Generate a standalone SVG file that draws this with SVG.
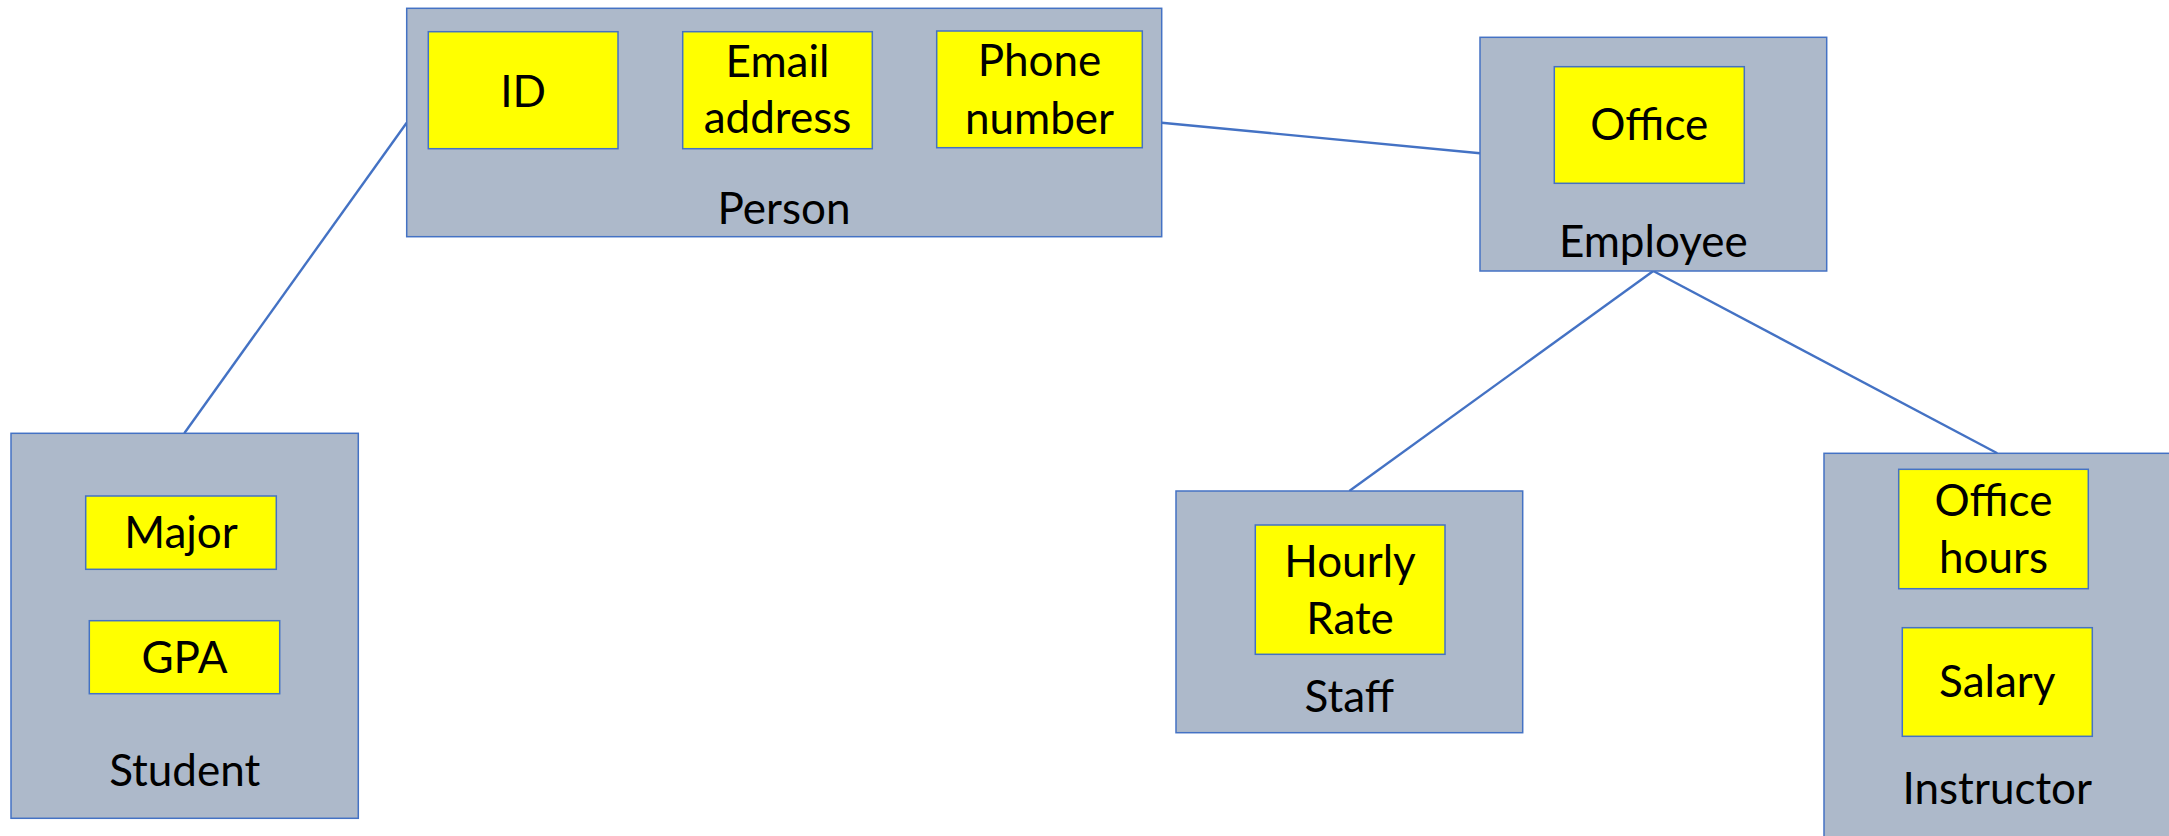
<svg xmlns="http://www.w3.org/2000/svg" width="2169" height="836" viewBox="0 0 2169 836">
  <style>
    .cls { fill: #ADB9CA; stroke: #4472C4; stroke-width: 1.5; }
    .attr { fill: #FFFF00; stroke: #4472C4; stroke-width: 1.5; }
    .link { stroke: #4472C4; stroke-width: 2.4; fill: none; }
    text { font-family: Lato, "Noto Sans", "Liberation Sans", sans-serif; font-size: 44px; fill: #000; text-anchor: middle; }
  </style>
  <rect width="2169" height="836" fill="#FFFFFF"/>

  <!-- inheritance links -->
  <g id="connectors">
    <line class="link" x1="406.7" y1="122.7" x2="184.3" y2="433.3"/>
    <line class="link" x1="1161.7" y1="122.7" x2="1480" y2="153.3"/>
    <line class="link" x1="1653.3" y1="271" x2="1349.3" y2="491"/>
    <line class="link" x1="1653.3" y1="271" x2="1997.3" y2="453.3"/>
  </g>

  <g id="person">
    <rect class="cls" x="406.7" y="8.3" width="755" height="228.4"/>
    <rect class="attr" x="428.3" y="31.7" width="189.7" height="117"/>
    <text x="523.2" y="106.7">ID</text>
    <rect class="attr" x="682.7" y="31.7" width="189.6" height="117"/>
    <text x="777.5" y="77.3">Email</text>
    <text x="777.5" y="133.3">address</text>
    <rect class="attr" x="936.7" y="31" width="205.6" height="116.7"/>
    <text x="1039.5" y="76">Phone</text>
    <text x="1039.5" y="134">number</text>
    <text x="784" y="224">Person</text>
  </g>

  <g id="employee">
    <rect class="cls" x="1480" y="37.3" width="346.7" height="233.7"/>
    <rect class="attr" x="1554.3" y="66.7" width="190" height="116.6"/>
    <text x="1649.3" y="140">Office</text>
    <text x="1653.3" y="256.7">Employee</text>
  </g>

  <g id="student">
    <rect class="cls" x="11" y="433.3" width="347.3" height="385"/>
    <rect class="attr" x="85.7" y="496" width="190.6" height="73.3"/>
    <text x="181" y="548.3">Major</text>
    <rect class="attr" x="89.3" y="620.7" width="190.4" height="73"/>
    <text x="184.5" y="673.3">GPA</text>
    <text x="184.7" y="785.7">Student</text>
  </g>

  <g id="staff">
    <rect class="cls" x="1176" y="491" width="346.7" height="241.7"/>
    <rect class="attr" x="1255.3" y="525" width="189.7" height="129.3"/>
    <text x="1350" y="576.7">Hourly</text>
    <text x="1350" y="634.3">Rate</text>
    <text x="1349.3" y="711.7">Staff</text>
  </g>

  <g id="instructor">
    <rect class="cls" x="1824" y="453.3" width="347" height="392"/>
    <rect class="attr" x="1898.7" y="469.3" width="189.6" height="119.4"/>
    <text x="1993.5" y="516">Office</text>
    <text x="1993.5" y="573.3">hours</text>
    <rect class="attr" x="1902.3" y="627.7" width="190" height="108.6"/>
    <text x="1997.3" y="697.3">Salary</text>
    <text x="1997.3" y="804">Instructor</text>
  </g>
</svg>
